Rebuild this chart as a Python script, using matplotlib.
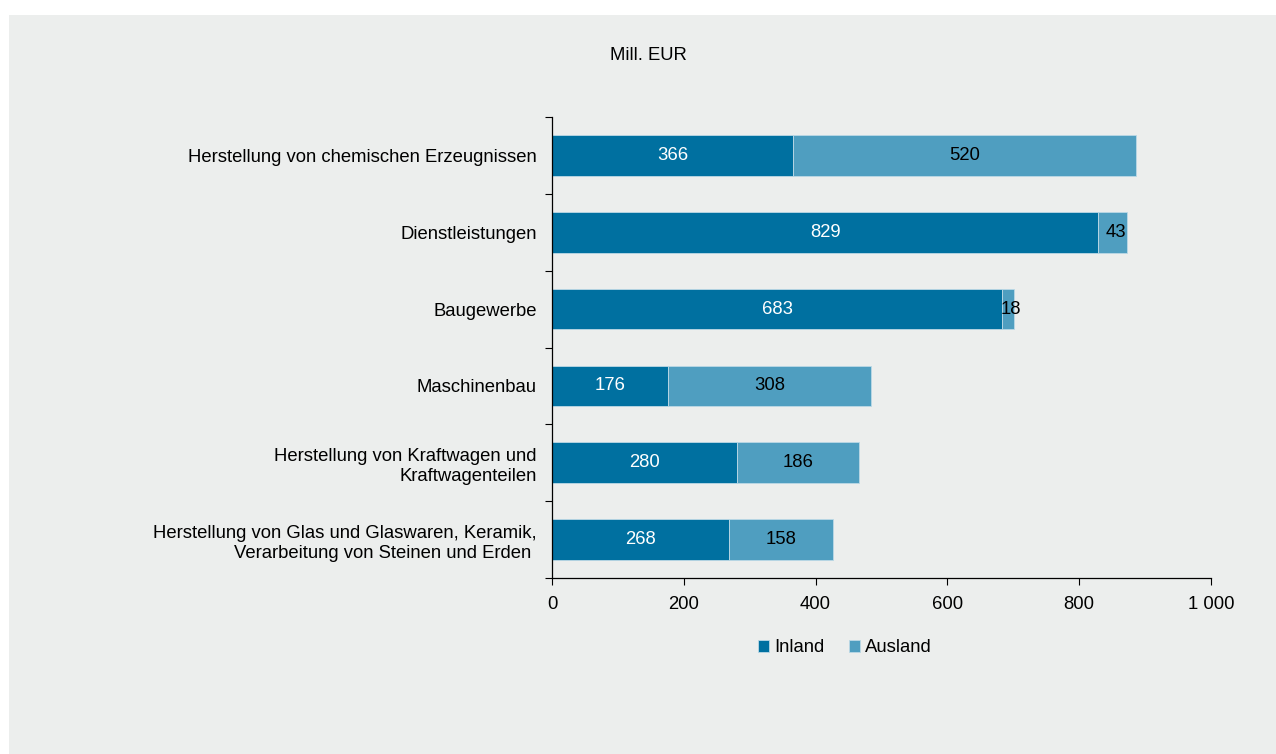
import matplotlib.pyplot as plt
from matplotlib.patches import Rectangle

plt.rcParams["font.family"] = ["Liberation Sans", "DejaVu Sans"]

categories = [
    "Herstellung von chemischen Erzeugnissen",
    "Dienstleistungen",
    "Baugewerbe",
    "Maschinenbau",
    "Herstellung von Kraftwagen und\nKraftwagenteilen",
    "Herstellung von Glas und Glaswaren, Keramik,\nVerarbeitung von Steinen und Erden ",
]
inland = [366, 829, 683, 176, 280, 268]
ausland = [520, 43, 18, 308, 186, 158]
x_ticks = [0, 200, 400, 600, 800, 1000]
x_ticklabels = ["0", "200", "400", "600", "800", "1 000"]

C_IN = "#0070a0"
C_AUS = "#4f9ec0"
BG = "#eceeed"
FS = 13.3

fig = plt.figure(figsize=(12.76, 7.54), dpi=100, facecolor="white")
fig.patches.append(Rectangle((9 / 1276, 0), 1, 1 - 15 / 754, transform=fig.transFigure,
                             facecolor=BG, edgecolor="none", zorder=-10))

ax = fig.add_axes([552 / 1276, 1 - 578 / 754, (1211 - 552) / 1276, (578 - 117) / 754])
ax.patch.set_alpha(0)

y = list(range(len(categories)))
b1 = ax.barh(y, inland, height=0.53, color=C_IN, edgecolor="#bcd9e6", linewidth=0.6, label="Inland")
b2 = ax.barh(y, ausland, left=inland, height=0.53, color=C_AUS, edgecolor="#bcd9e6", linewidth=0.6,
             label="Ausland")

for i in y:
    ax.text(inland[i] / 2, i, str(inland[i]), ha="center", va="center", color="white", fontsize=FS)
    ax.text(inland[i] + ausland[i] / 2 + (5 if ausland[i] < 60 else 0), i, str(ausland[i]),
            ha="center", va="center", color="black", fontsize=FS)

ax.set_ylim(len(categories) - 0.5, -0.5)
ax.set_xlim(0, 1000)
ax.set_yticks([i + 0.5 for i in range(-1, len(categories))])
ax.set_yticklabels([])
ax.set_yticks(y, minor=True)
ax.set_yticklabels(categories, minor=True, fontsize=FS)
ax.tick_params(axis="y", which="minor", length=0, pad=11)
ax.tick_params(axis="y", which="major", length=5, width=0.8)
ax.set_xticks(x_ticks)
ax.set_xticklabels(x_ticklabels, fontsize=FS)
ax.tick_params(axis="x", length=5, width=0.8, pad=8)
for lab in ax.get_yticklabels(minor=True):
    lab.set_multialignment("right")
    lab.set_linespacing(1.25)

for s in ["top", "right"]:
    ax.spines[s].set_visible(False)
ax.spines["left"].set_linewidth(0.9)
ax.spines["bottom"].set_linewidth(0.9)

fig.text(648 / 1276, 1 - 55 / 754, "Mill. EUR", ha="center", va="center", fontsize=FS)

fig.legend(handles=[b1, b2], labels=["Inland", "Ausland"], loc="center",
           bbox_to_anchor=(845 / 1276, 1 - 648 / 754), ncol=2, frameon=False, fontsize=FS,
           handlelength=0.6, handleheight=0.6, handletextpad=0.3, columnspacing=1.3)

fig.savefig("out.png", dpi=100, facecolor=fig.get_facecolor())
